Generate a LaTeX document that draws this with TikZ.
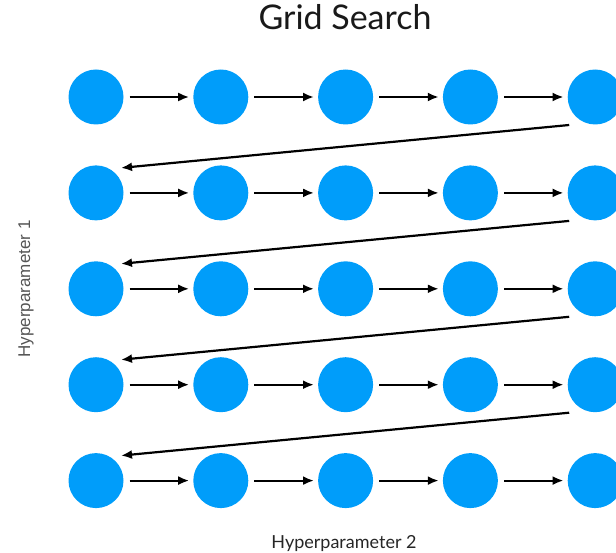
\documentclass[tikz,border=0pt]{standalone}
\usepackage{fontspec}
\setmainfont{Lato}
\newfontfamily\axisfont{Liberation Sans}
\usetikzlibrary{arrows.meta}
\definecolor{gridblue}{RGB}{0,157,250}
\definecolor{axisgray}{RGB}{85,85,85}

\begin{document}
\begin{tikzpicture}[x=1pt,y=-1pt,>={Latex[length=11pt,width=9pt]},line width=2.2pt,
  grid node/.style={circle,fill=gridblue,inner sep=0pt,minimum size=55pt},
  row edge/.style={->,shorten <=5pt,shorten >=3pt},
  jump edge/.style={->}]

  \useasboundingbox (0,0) rectangle (616,553);

  % the 5x5 grid of points
  \foreach \r in {1,...,5}
    \foreach \c in {1,...,5}
      \node[grid node] (n-\r-\c) at ({96+124.8*(\c-1)},{97+95.9*(\r-1)}) {};

  % left to right along each row
  \foreach \r in {1,...,5}
    \foreach \c [count=\d from 2] in {1,...,4}
      \draw[row edge] (n-\r-\c) -- (n-\r-\d);

  % back to the start of the next row
  \foreach \r [count=\s from 2] in {1,...,4}
    \draw[jump edge] ([shift={(-26,28)}]n-\r-5.center) -- ([shift={(25,-25)}]n-\s-1.center);

  \node[anchor=base,font=\fontsize{34}{40}\selectfont,text=black!90] (title) at (345,30) {Grid Search};
  \node[anchor=base,font=\fontsize{18}{22}\selectfont,text=black!85] (xlabel) at (344,548) {Hyperparameter 2};
  \node[anchor=base,rotate=90,font=\axisfont\fontsize{17}{20}\selectfont,text=axisgray] (ylabel) at (30,289) {Hyperparameter 1};
\end{tikzpicture}
\end{document}
